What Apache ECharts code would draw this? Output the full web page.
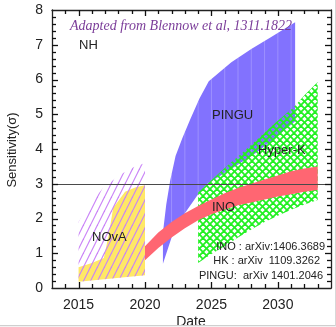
<!DOCTYPE html>
<html>
<head>
<meta charset="utf-8">
<script src="https://cdn.jsdelivr.net/npm/echarts@6/dist/echarts.min.js"></script>
<style>
html, body { margin: 0; padding: 0; background: #fff; }
#chart { width: 336px; height: 327px; }
</style>
</head>
<body>
<div id="chart"></div>
<script>
// outlines of each sensitivity band, [year, sigma]
const pinguUpper = [[2021.35, 0.7], [2021.35, 1.6], [2021.6, 2.4], [2021.9, 3.1], [2022.3, 3.8], [2022.8, 4.3], [2023.4, 4.85], [2024.1, 5.45], [2024.8, 5.95], [2026.5, 6.5], [2028, 6.88], [2029.5, 7.22], [2031.3, 7.65]]
const pinguLower = [[2021.35, 0.7], [2022, 1.45], [2023, 2.15], [2024, 2.7], [2024.7, 3.0], [2026.6, 3.45], [2028.4, 3.9], [2029.9, 4.35], [2031.3, 4.8]]

const hkUpper = [[2024, 2.75], [2025, 3.1], [2026, 3.45], [2027.2, 3.85], [2028.4, 4.26], [2029.8, 4.75], [2031.2, 5.2], [2032, 5.55], [2033, 5.93]]
const hkLower = [[2024, 0.72], [2025, 0.98], [2026, 1.2], [2027, 1.45], [2028, 1.68], [2029, 1.9], [2030, 2.08], [2031, 2.25], [2032, 2.4], [2033, 2.53]]

const inoUpper = [[2020, 1.2], [2021, 1.6], [2022, 1.9], [2023, 2.15], [2024, 2.36], [2025, 2.55], [2026, 2.73], [2027, 2.88], [2028, 3.0], [2029, 3.12], [2030, 3.24], [2031, 3.36], [2032, 3.44], [2033, 3.5]]
const inoLower = [[2020, 0.8], [2021, 1.15], [2022, 1.45], [2023, 1.72], [2024, 1.95], [2025, 2.12], [2026, 2.26], [2027, 2.38], [2028, 2.46], [2029, 2.55], [2030, 2.63], [2031, 2.7], [2032, 2.77], [2033, 2.82]]

const novaUpper = [[2015, 0.6], [2016, 0.72], [2016.9, 0.86], [2017.3, 1.58], [2017.6, 2.3], [2018.5, 2.77], [2019.3, 2.9], [2020, 2.96]]
const novaLower = [[2015, 0.18], [2020, 0.37]]
const novaHatchUpper = [[2015, 1.9], [2015.9, 2.45], [2016.9, 2.9], [2018.1, 3.25], [2019, 3.45], [2020, 3.6]]

const threshold = 3
const xRange = [2013, 2034]
const yRange = [0, 8]

const chart = echarts.init(document.getElementById('chart'))

// diagonal hatch for the NOvA outer band
function hatchPattern() {
  const c = document.createElement('canvas')
  c.width = 7
  c.height = 14
  const ctx = c.getContext('2d')
  ctx.strokeStyle = '#c983f7'
  ctx.lineWidth = 1.2
  for (const dx of [-7, 0, 7]) {
    ctx.beginPath()
    ctx.moveTo(dx, 14)
    ctx.lineTo(dx + 7, 0)
    ctx.stroke()
  }
  return { image: c, repeat: 'repeat' }
}

// green cross hatch for Hyper-K
function crossPattern() {
  const c = document.createElement('canvas')
  c.width = 7
  c.height = 7
  const ctx = c.getContext('2d')
  ctx.strokeStyle = '#22f022'
  ctx.lineWidth = 1.8
  for (const dx of [-7, 0, 7]) {
    ctx.beginPath()
    ctx.moveTo(dx, 0)
    ctx.lineTo(dx + 7, 7)
    ctx.stroke()
    ctx.beginPath()
    ctx.moveTo(dx, 7)
    ctx.lineTo(dx + 7, 0)
    ctx.stroke()
  }
  return { image: c, repeat: 'repeat' }
}

function interp(edge, x) {
  for (let i = 1; i < edge.length; i++) {
    const [x0, y0] = edge[i - 1]
    const [x1, y1] = edge[i]
    if (x >= x0 && x <= x1) return y0 + (y1 - y0) * (x - x0) / (x1 - x0)
  }
  return null
}

function bandSeries(upper, lower, fill, z, stripes) {
  return {
    type: 'custom',
    z: z,
    silent: true,
    data: [[upper[0][0], upper[0][1]]],
    renderItem: (params, api) => {
      const pts = upper.concat(lower.slice().reverse()).map(p => api.coord(p))
      const children = [{ type: 'polygon', shape: { points: pts }, style: { fill: fill } }]
      if (stripes) {
        // faint yearly lines inside the PINGU band
        for (let yr = Math.ceil(upper[0][0]); yr <= upper[upper.length - 1][0]; yr++) {
          const hi = interp(upper, yr)
          const lo = interp(lower, yr)
          if (hi == null || lo == null) continue
          const a = api.coord([yr, lo])
          const b = api.coord([yr, hi])
          children.push({
            type: 'line',
            shape: { x1: a[0], y1: a[1], x2: b[0], y2: b[1] },
            style: { stroke: 'rgba(255,255,255,0.22)', lineWidth: 1 }
          })
        }
      }
      return { type: 'group', children: children }
    }
  }
}

// inward ticks on all four sides: every year / every 0.2 sigma, longer on the labelled values
const tickSeries = {
  type: 'custom',
  z: 6,
  silent: true,
  clip: false,
  data: [[xRange[0], yRange[0]]],
  renderItem: (params, api) => {
    const cs = params.coordSys
    const top = cs.y, bottom = cs.y + cs.height, left = cs.x, right = cs.x + cs.width
    const st = { stroke: '#111', lineWidth: 1.3 }
    const kids = []
    for (let yr = xRange[0] + 1; yr < xRange[1]; yr++) {
      const len = yr % 5 === 0 ? 6 : 4
      const x = Math.round(api.coord([yr, 0])[0]) + 0.5
      kids.push({ type: 'line', shape: { x1: x, y1: bottom, x2: x, y2: bottom - len }, style: st })
      kids.push({ type: 'line', shape: { x1: x, y1: top, x2: x, y2: top + len }, style: st })
    }
    for (let k = 1; k < (yRange[1] - yRange[0]) * 5; k++) {
      const v = yRange[0] + k / 5
      const len = k % 5 === 0 ? 6 : 4
      const y = Math.round(api.coord([xRange[0], v])[1]) + 0.5
      kids.push({ type: 'line', shape: { x1: left, y1: y, x2: left + len, y2: y }, style: st })
      kids.push({ type: 'line', shape: { x1: right, y1: y, x2: right - len, y2: y }, style: st })
    }
    return { type: 'group', children: kids }
  }
}

function makeAxis(extra) {
  return Object.assign({
    type: 'value',
    axisLine: { show: true, onZero: false, lineStyle: { color: '#222', width: 1.3 } },
    axisTick: { show: false },
    minorTick: { show: false },
    splitLine: { show: false },
    minorSplitLine: { show: false }
  }, extra)
}

const labelFont = () => ({ fontFamily: 'Liberation Sans', fontSize: 14, color: '#222' })
const txt = (size, extra) => Object.assign({ font: size + 'px "Liberation Sans"', fill: '#222' }, extra)

const option = {
  animation: false,
  backgroundColor: '#fff',
  grid: { left: 52, right: 5, top: 10, bottom: 39 },
  xAxis: [
    makeAxis({
      position: 'bottom',
      min: xRange[0], max: xRange[1],
      minInterval: 5, maxInterval: 5,
      axisLabel: Object.assign(labelFont(), {
        margin: 10,
        showMinLabel: false, showMaxLabel: false,
        formatter: v => (v % 5 === 0 ? String(v) : '')
      })
    }),
    makeAxis({
      position: 'top',
      min: xRange[0], max: xRange[1],
      minInterval: 5, maxInterval: 5,
      axisLabel: { show: false }
    })
  ],
  yAxis: [
    makeAxis({
      position: 'left',
      min: yRange[0], max: yRange[1], interval: 1,
      axisLabel: Object.assign(labelFont(), { margin: 9 })
    }),
    makeAxis({
      position: 'right',
      min: yRange[0], max: yRange[1], interval: 1,
      axisLabel: { show: false }
    })
  ],
  series: [
    bandSeries(pinguUpper, pinguLower, '#8272fe', 1, true),
    bandSeries(hkUpper, hkLower, crossPattern(), 2, false),
    bandSeries(inoUpper, inoLower, '#ff6672', 3, false),
    bandSeries(novaUpper, novaLower, '#ffe866', 1, false),
    bandSeries(novaHatchUpper, novaLower, hatchPattern(), 2, false),
    {
      type: 'line',
      data: [],
      z: 5,
      markLine: {
        silent: true,
        symbol: 'none',
        label: { show: false },
        lineStyle: { color: '#4a4a4a', width: 1, type: 'solid' },
        data: [{ yAxis: threshold }]
      }
    },
    tickSeries
  ],
  graphic: [
    { type: 'text', z: 10, style: { text: 'Adapted from Blennow et al, 1311.1822', x: 70, y: 26, font: 'italic 14px "Liberation Serif"', fill: '#7b3d99', verticalAlign: 'middle' } },
    { type: 'text', z: 10, style: txt(13, { text: 'NH', x: 79, y: 45, verticalAlign: 'middle' }) },
    { type: 'text', z: 10, style: txt(13, { text: 'PINGU', x: 212, y: 115, verticalAlign: 'middle' }) },
    { type: 'text', z: 10, style: txt(13, { text: 'Hyper-K', x: 258, y: 150, verticalAlign: 'middle' }) },
    { type: 'text', z: 10, style: txt(13, { text: 'INO', x: 212, y: 207, verticalAlign: 'middle' }) },
    { type: 'text', z: 10, style: txt(13, { text: 'NOvA', x: 92, y: 237, verticalAlign: 'middle' }) },
    { type: 'text', z: 10, style: txt(11, { text: 'INO : arXiv:1406.3689', x: 325, y: 247, align: 'right', verticalAlign: 'middle' }) },
    { type: 'text', z: 10, style: txt(11, { text: 'HK : arXiv  1109.3262', x: 320, y: 261, align: 'right', verticalAlign: 'middle' }) },
    { type: 'text', z: 10, style: txt(11, { text: 'PINGU:  arXiv 1401.2046', x: 323, y: 276, align: 'right', verticalAlign: 'middle' }) },
    // axis titles
    { type: 'text', z: 10, x: 12, y: 150, rotation: Math.PI / 2, style: txt(13, { text: 'Sensitivity(σ)', align: 'center', verticalAlign: 'middle' }) },
    { type: 'text', z: 10, style: txt(14, { text: 'Date', x: 191, y: 322, align: 'center', verticalAlign: 'middle' }) },
    // thin frame round the picture edge
    { type: 'rect', z: 20, shape: { x: 0, y: 326, width: 336, height: 1 }, style: { fill: '#f2f2f2' } },
    { type: 'line', z: 21, shape: { x1: 0, y1: 325.5, x2: 336, y2: 325.5 }, style: { stroke: '#cfcfcf', lineWidth: 1 } },
    { type: 'line', z: 21, shape: { x1: 335.5, y1: 0, x2: 335.5, y2: 326 }, style: { stroke: '#d8d8d8', lineWidth: 1 } }
  ]
}

chart.setOption(option)
</script>
</body>
</html>
